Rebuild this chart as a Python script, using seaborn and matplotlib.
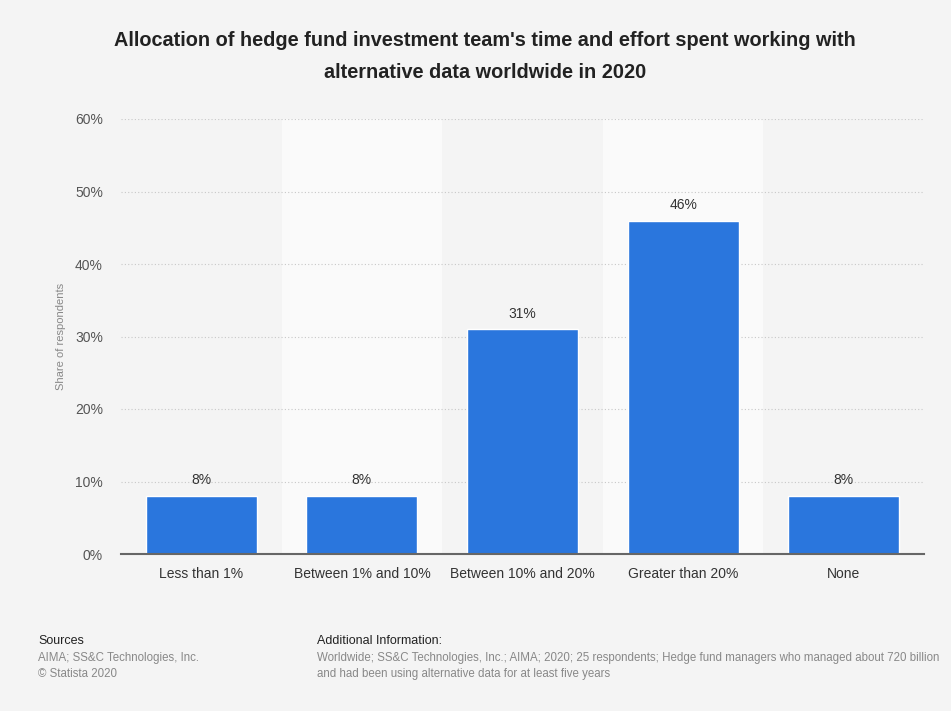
import matplotlib
matplotlib.use("Agg")
import matplotlib.pyplot as plt
import seaborn as sns
import pandas as pd

categories = ["Less than 1%", "Between 1% and 10%", "Between 10% and 20%", "Greater than 20%", "None"]
values = [8, 8, 31, 46, 8]
yticks = [0, 10, 20, 30, 40, 50, 60]
ytick_labels = ["0%", "10%", "20%", "30%", "40%", "50%", "60%"]

title = "Allocation of hedge fund investment team's time and effort spent working with\nalternative data worldwide in 2020"

sns.set_theme(style="white")
plt.rcParams['font.family'] = ['Liberation Sans', 'DejaVu Sans']

bg = "#f4f4f4"
fig = plt.figure(figsize=(9.51, 7.11), dpi=100, facecolor=bg)
ax = fig.add_axes([121/951, 1-554/711, (924-121)/951, (554-119)/711])
ax.set_facecolor(bg)

df = pd.DataFrame({"cat": categories, "val": values})
sns.barplot(data=df, x="cat", y="val", color="#2a76dd", width=0.69, ax=ax, saturation=1, zorder=3)

# alternating column bands
for i in range(len(categories)):
    if i % 2 == 1:
        ax.axvspan(i - 0.5, i + 0.5, color="#fafafa", zorder=0, lw=0)

ax.set_xlim(-0.5, len(categories) - 0.5)
ax.set_ylim(0, 60)
ax.set_yticks(yticks)
ax.set_yticklabels(ytick_labels)
ax.yaxis.grid(True, linestyle=(0, (1, 2)), color="#c8c8c8", linewidth=0.8, zorder=1)
ax.set_axisbelow(True)
for s in ["top", "right", "left"]:
    ax.spines[s].set_visible(False)
ax.spines["bottom"].set_color("#666666")
ax.spines["bottom"].set_linewidth(1.5)
ax.spines["bottom"].set_zorder(4)
ax.tick_params(axis="y", length=0, labelsize=10, colors="#555555", pad=13)
ax.tick_params(axis="x", length=0, labelsize=10, colors="#333333", pad=9)
ax.set_xlabel("")
ax.set_ylabel("Share of respondents", fontsize=8, color="#888888", labelpad=6.5)

for i, v in enumerate(values):
    ax.text(i, v + 1.2, f"{v}%", ha="center", va="bottom", fontsize=10, color="#333333", zorder=5)

fig.text(485/951, 1 - 56.5/711, title, ha="center", va="center", fontsize=14.3, fontweight="bold",
         color="#222222", linespacing=1.85)

fig.text(38/951, 1 - 641/711, "Sources", fontsize=9, color="#222222", va="center")
fig.text(38/951, 1 - 652/711, "AIMA; SS&C Technologies, Inc.\n© Statista 2020", fontsize=8.3, color="#888888",
         va="top", linespacing=1.45)
fig.text(317/951, 1 - 641/711, "Additional Information:", fontsize=9, color="#222222", va="center")
fig.text(317/951, 1 - 652/711,
         "Worldwide; SS&C Technologies, Inc.; AIMA; 2020; 25 respondents; Hedge fund managers who managed about 720 billion\nand had been using alternative data for at least five years",
         fontsize=8.3, color="#888888", va="top", linespacing=1.45)

fig.savefig("out.png", dpi=100, facecolor=bg)
